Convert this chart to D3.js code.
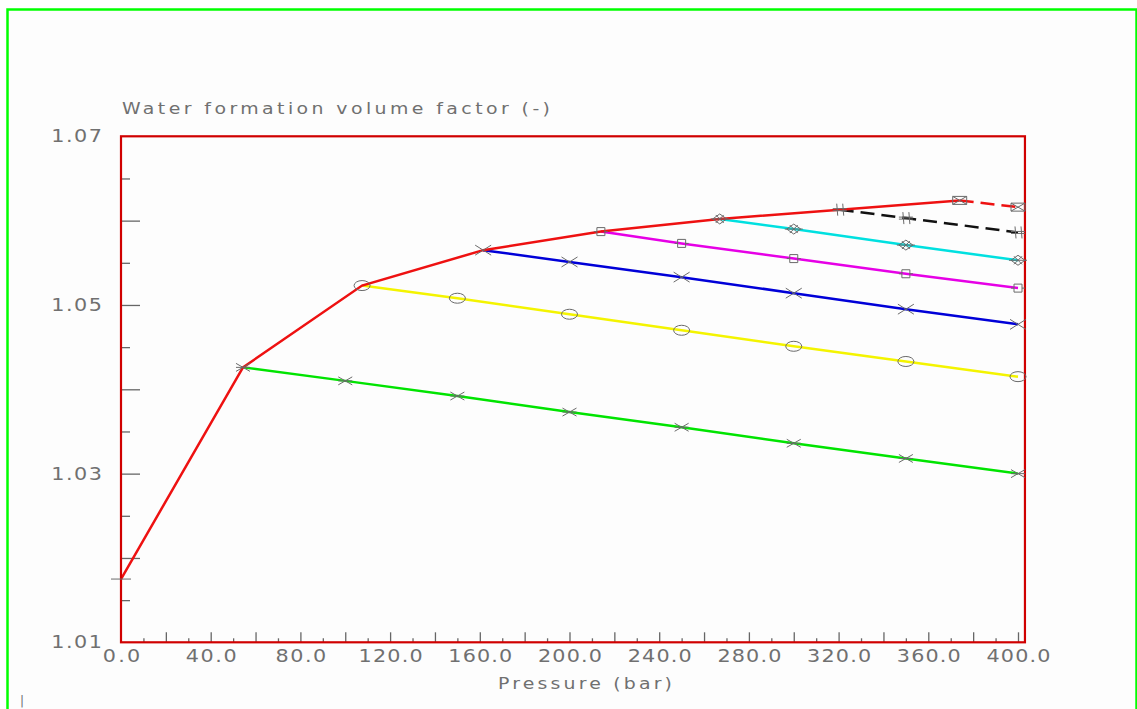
<!DOCTYPE html>
<html>
<head>
<meta charset="utf-8">
<script src="https://cdn.jsdelivr.net/npm/d3@7/dist/d3.min.js"></script>
<style>
  html, body { margin: 0; padding: 0; background: #ffffff; }
  svg { display: block; }
  text { font-family: "DejaVu Sans", sans-serif; fill: #707070; }
</style>
</head>
<body>
<svg id="chart" width="1137" height="709"></svg>
<script>
// Saturated (bubble-point) curve
const satPressure = [0, 54.4, 107.5, 161.5, 214, 267, 320.5, 374];
const satBw       = [1.0175, 1.0426, 1.0523, 1.0565, 1.0587, 1.0602, 1.0613, 1.0624];

// Undersaturated branches, one per bubble-point pressure
const greenPressure   = [54.4, 100, 150, 200, 250, 300, 350, 400];
const greenBw         = [1.0426, 1.0410, 1.0392, 1.0373, 1.0355, 1.0336, 1.0318, 1.0300];
const yellowPressure  = [107.5, 150, 200, 250, 300, 350, 400];
const yellowBw        = [1.0523, 1.0508, 1.0489, 1.0470, 1.0451, 1.0433, 1.0415];
const bluePressure    = [161.5, 200, 250, 300, 350, 400];
const blueBw          = [1.0565, 1.0551, 1.0533, 1.0514, 1.0495, 1.0477];
const magentaPressure = [214, 250, 300, 350, 400];
const magentaBw       = [1.0587, 1.0573, 1.0555, 1.0537, 1.0520];
const cyanPressure    = [267, 300, 350, 400];
const cyanBw          = [1.0602, 1.0590, 1.0571, 1.0553];
const blackPressure   = [320.5, 350, 400];
const blackBw         = [1.0613, 1.0603, 1.0586];
const redDashPressure = [374, 400];
const redDashBw       = [1.0624, 1.0616];

// Axis ticks and labels
const xLabelTicks = [0, 40, 80, 120, 160, 200, 240, 280, 320, 360, 400];
const xMajorTicks = d3.range(20, 401, 20);
const xMinorTicks = d3.range(10, 400, 20);
const yLabelTicks = [1.01, 1.03, 1.05, 1.07];
const yMajorTicks = [1.02, 1.03, 1.04, 1.05, 1.06];
const yMinorTicks = [1.015, 1.025, 1.035, 1.045, 1.055, 1.065];

const titleText = "Water formation volume factor (-)";
const xTitleText = "Pressure (bar)";

// Marker glyphs (centred on the point)
const glyphs = {
  dash:     "M-10,0H10",
  asterisk: "M-7,-4L7,4M-7,4L7,-4M-7,0H7",
  ellipse:  "M-8,0A8,5 0 1,0 8,0A8,5 0 1,0 -8,0",
  cross:    "M-8,-5L8,5M-8,5L8,-5",
  square:   "M-4,-4H4V4H-4ZM-7,0H-4M4,0H7",
  diamond:  "M0,-5L7,0L0,5L-7,0ZM-9,0H9M-4,-4L4,4M-4,4L4,-4",
  hash:     "M-3,-6L-2,6M3,-6L4,6M-7,-1H7M-7,1H7",
  boxX:     "M-7,-4H7V4H-7ZM-7,-4L7,4M-7,4L7,-4"
};

const branches = [
  { p: greenPressure,   b: greenBw,   color: "#00e400", dash: null,   glyph: "asterisk" },
  { p: yellowPressure,  b: yellowBw,  color: "#f4f400", dash: null,   glyph: "ellipse" },
  { p: bluePressure,    b: blueBw,    color: "#0000d8", dash: null,   glyph: "cross" },
  { p: magentaPressure, b: magentaBw, color: "#e600e6", dash: null,   glyph: "square" },
  { p: cyanPressure,    b: cyanBw,    color: "#00e0e0", dash: null,   glyph: "diamond" },
  { p: blackPressure,   b: blackBw,   color: "#111111", dash: "14,7", glyph: "hash" },
  { p: redDashPressure, b: redDashBw, color: "#ee1111", dash: "14,7", glyph: "boxX" }
];

const svg = d3.select("#chart");

// Outer lime frame
svg.append("rect")
  .attr("x", 7.5).attr("y", 9.5)
  .attr("width", 1129).attr("height", 760)
  .attr("fill", "#fdfdfd")
  .attr("stroke", "#00ff00").attr("stroke-width", 2.5);

const x = d3.scaleLinear().domain([0, 400]).range([121, 1018]);
const y = d3.scaleLinear().domain([1.01, 1.07]).range([642.3, 136.3]);
const xFrameEnd = 403.1;

// Wide plotter lettering: stretch glyphs horizontally, then space to width
const STRETCH = 1.22;
function widen(sel, widthFn, xPos) {
  sel.each(function (d) {
    const t = d3.select(this);
    const w = widthFn(d);
    if (xPos !== undefined) t.attr("x", xPos / STRETCH);
    t.attr("transform", `scale(${STRETCH},1)`)
     .attr("textLength", w / STRETCH)
     .attr("lengthAdjust", "spacing");
  });
}

// Ticks drawn inward from the bottom and left edges
function tickAxis(axis, ticks, size, transform) {
  const g = svg.append("g").attr("transform", transform)
    .call(axis.tickValues(ticks).tickSize(size).tickFormat(""));
  g.select(".domain").remove();
  g.selectAll(".tick line").attr("stroke", "#666").attr("stroke-width", 1.3);
  return g;
}
tickAxis(d3.axisBottom(x), xMajorTicks, -10, `translate(0,${y(1.01)})`);
tickAxis(d3.axisBottom(x), xMinorTicks, -4,  `translate(0,${y(1.01)})`);
tickAxis(d3.axisLeft(y),   yMajorTicks, -19, `translate(${x(0)},0)`);
tickAxis(d3.axisLeft(y),   yMinorTicks, -9,  `translate(${x(0)},0)`);

// Tick labels
const fmtX = d3.format(".1f");
const fmtY = d3.format(".2f");
const labelWidth = s => 13.2 * s.length - 2;

const gxl = svg.append("g").attr("transform", `translate(0,${y(1.01)})`)
  .call(d3.axisBottom(x).tickValues(xLabelTicks).tickSize(0).tickPadding(8).tickFormat(fmtX));
gxl.select(".domain").remove();
gxl.selectAll("text")
  .attr("font-size", 17).attr("font-family", null).attr("fill", "#707070");
widen(gxl.selectAll("text"), d => labelWidth(fmtX(d)));

const gyl = svg.append("g").attr("transform", `translate(${x(0)},0)`)
  .call(d3.axisLeft(y).tickValues(yLabelTicks).tickSize(0).tickPadding(19).tickFormat(fmtY));
gyl.select(".domain").remove();
gyl.selectAll("text")
  .attr("font-size", 17).attr("font-family", null).attr("fill", "#707070");
widen(gyl.selectAll("text"), d => labelWidth(fmtY(d)), -19);

// Titles
const title = svg.append("g").attr("transform", "translate(122,114)")
  .append("text").attr("font-size", 15.5).text(titleText);
widen(title, () => 428);

const xTitle = svg.append("g").attr("transform", "translate(498,689)")
  .append("text").attr("font-size", 15.5).text(xTitleText);
widen(xTitle, () => 174);

svg.append("text")
  .attr("x", 20).attr("y", 705)
  .attr("font-size", 12)
  .text("|");

const line = d3.line().x(d => x(d[0])).y(d => y(d[1]));

// Undersaturated branches
branches.forEach(s => {
  svg.append("path")
    .datum(d3.zip(s.p, s.b))
    .attr("d", line)
    .attr("fill", "none")
    .attr("stroke", s.color)
    .attr("stroke-width", 2.5)
    .attr("stroke-dasharray", s.dash);
});

// Saturated curve
svg.append("path")
  .datum(d3.zip(satPressure, satBw))
  .attr("d", line)
  .attr("fill", "none")
  .attr("stroke", "#ee1111")
  .attr("stroke-width", 2.5);

// Plot frame
svg.append("rect")
  .attr("x", x(0)).attr("y", y(1.07))
  .attr("width", x(xFrameEnd) - x(0)).attr("height", y(1.01) - y(1.07))
  .attr("fill", "none")
  .attr("stroke", "#d00000").attr("stroke-width", 2.2);

// Markers
const markerGroups = [{ p: [satPressure[0]], b: [satBw[0]], glyph: "dash" }].concat(branches);
markerGroups.forEach(s => {
  svg.append("g")
    .selectAll("path")
    .data(d3.zip(s.p, s.b))
    .join("path")
    .attr("transform", d => `translate(${x(d[0])},${y(d[1])})`)
    .attr("d", glyphs[s.glyph])
    .attr("fill", "none")
    .attr("stroke", "#6a6a6a")
    .attr("stroke-width", 1);
});
</script>
</body>
</html>
